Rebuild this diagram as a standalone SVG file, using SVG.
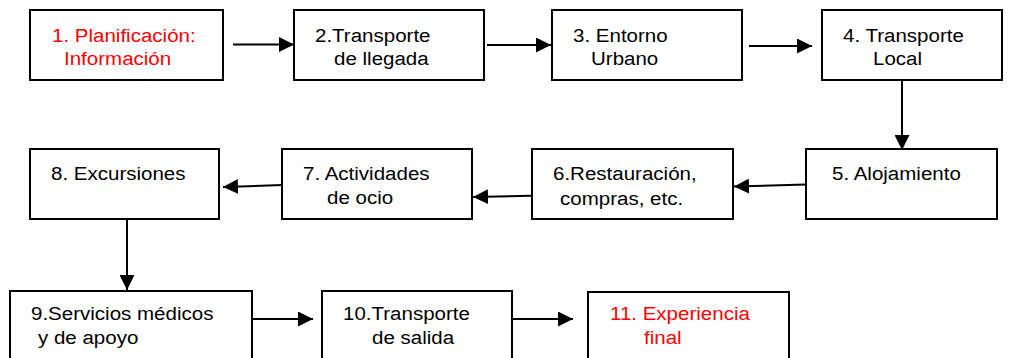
<svg xmlns="http://www.w3.org/2000/svg" width="1010" height="358" viewBox="0 0 1010 358">
<defs>
<style>
.box{fill:#fff;stroke:#000;stroke-width:2}
.t{font-family:"Liberation Sans",Arial,sans-serif;font-size:19px;fill:#000}
.r{fill:#ff0000}
.c{stroke:#000;stroke-width:2;fill:none;marker-end:url(#ah)}
</style>
<marker id="ah" markerUnits="userSpaceOnUse" markerWidth="16" markerHeight="15" refX="15" refY="7.5" orient="auto" viewBox="0 0 16 15">
<path d="M0,0 L15,7.5 L0,15 z" fill="#000"/>
</marker>
</defs>
<rect width="1010" height="358" fill="#fff"/>
<g id="connectors">
<line class="c" x1="233" y1="44.5" x2="294" y2="44.5"/>
<line class="c" x1="487" y1="45" x2="551" y2="45"/>
<line class="c" x1="749" y1="46" x2="812" y2="46"/>
<line class="c" x1="902" y1="80" x2="902" y2="150"/>
<line class="c" x1="806" y1="184.5" x2="734" y2="186.5"/>
<line class="c" x1="543" y1="195.5" x2="473" y2="197"/>
<line class="c" x1="282" y1="185" x2="223" y2="187"/>
<line class="c" x1="127" y1="219" x2="127" y2="290"/>
<line class="c" x1="252" y1="319" x2="313" y2="319"/>
<line class="c" x1="512" y1="319" x2="573" y2="319"/>
</g>
<g id="n1"><rect class="box" x="30" y="10" width="193" height="70"/>
<text class="t r" transform="translate(52 42) scale(1.08 1)">1. Planificación:</text>
<text class="t r" transform="translate(64 65) scale(1.08 1)">Información</text></g>
<g id="n2"><rect class="box" x="294" y="10" width="190" height="70"/>
<text class="t" transform="translate(315 42) scale(1.08 1)">2.Transporte</text>
<text class="t" transform="translate(334 65) scale(1.08 1)">de llegada</text></g>
<g id="n3"><rect class="box" x="552" y="10" width="190" height="70"/>
<text class="t" transform="translate(573 42) scale(1.08 1)">3. Entorno</text>
<text class="t" transform="translate(591 65) scale(1.08 1)">Urbano</text></g>
<g id="n4"><rect class="box" x="822" y="10" width="180" height="70"/>
<text class="t" transform="translate(843 42) scale(1.08 1)">4. Transporte</text>
<text class="t" transform="translate(873 65) scale(1.08 1)">Local</text></g>
<g id="n5"><rect class="box" x="806" y="149" width="191" height="70"/>
<text class="t" transform="translate(832 180) scale(1.08 1)">5. Alojamiento</text></g>
<g id="n6"><rect class="box" x="532" y="149" width="201" height="70"/>
<text class="t" transform="translate(553 180) scale(1.08 1)">6.Restauración,</text>
<text class="t" transform="translate(560 205) scale(1.08 1)">compras, etc.</text></g>
<g id="n7"><rect class="box" x="282" y="149" width="190" height="70"/>
<text class="t" transform="translate(303 180) scale(1.08 1)">7. Actividades</text>
<text class="t" transform="translate(327 204) scale(1.08 1)">de ocio</text></g>
<g id="n8"><rect class="box" x="30" y="149" width="189" height="70"/>
<text class="t" transform="translate(51 180) scale(1.08 1)">8. Excursiones</text></g>
<g id="n9"><rect class="box" x="10" y="291" width="242" height="80"/>
<text class="t" transform="translate(31 320) scale(1.08 1)">9.Servicios médicos</text>
<text class="t" transform="translate(38 344) scale(1.08 1)">y de apoyo</text></g>
<g id="n10"><rect class="box" x="322" y="291" width="190" height="80"/>
<text class="t" transform="translate(343 320) scale(1.08 1)">10.Transporte</text>
<text class="t" transform="translate(372 344) scale(1.08 1)">de salida</text></g>
<g id="n11"><rect class="box" x="588" y="292" width="201" height="80"/>
<text class="t r" transform="translate(610 320) scale(1.08 1)">11. Experiencia</text>
<text class="t r" transform="translate(644 344) scale(1.08 1)">final</text></g>
</svg>
